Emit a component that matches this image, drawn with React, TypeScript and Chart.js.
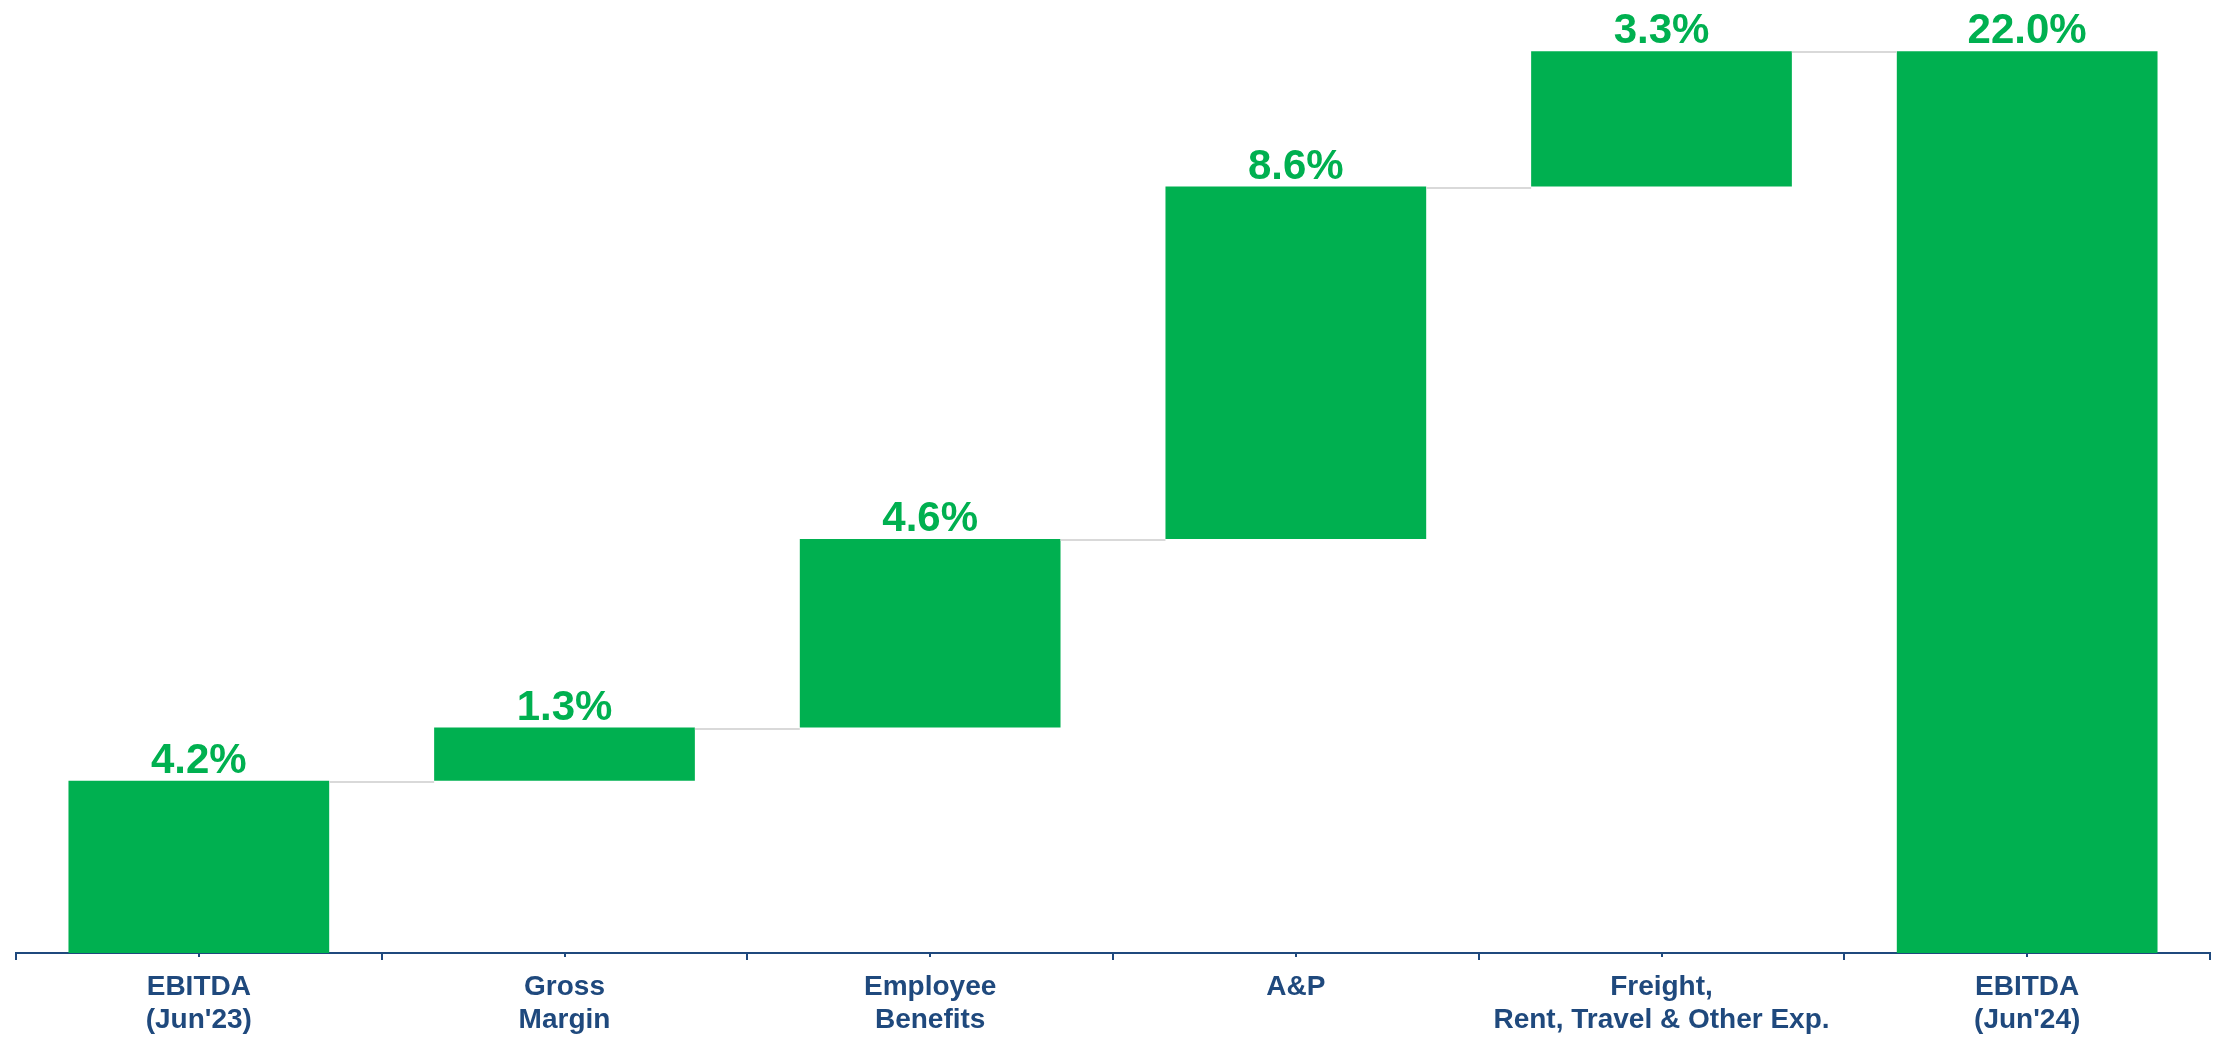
import React, { useEffect, useRef } from "react";
import { Chart, registerables } from "chart.js";

Chart.register(...registerables);

const categories: string[][] = [
  ["EBITDA", "(Jun'23)"],
  ["Gross", "Margin"],
  ["Employee", "Benefits"],
  ["A&P"],
  ["Freight,", "Rent, Travel & Other Exp."],
  ["EBITDA", "(Jun'24)"],
];
const values: number[] = [4.2, 1.3, 4.6, 8.6, 3.3, 22.0];
const isTotal: boolean[] = [true, false, false, false, false, true];

const GREEN = "#00B050";
const AXIS_BLUE = "#1F497D";
const CONNECTOR = "#D9D9D9";
const FONT = "'Liberation Sans', Arial, sans-serif";

function buildRanges(): [number, number][] {
  const out: [number, number][] = [];
  let running = 0;
  values.forEach((v, i) => {
    if (isTotal[i]) {
      out.push([0, v]);
      running = v;
    } else {
      out.push([running, running + v]);
      running += v;
    }
  });
  return out;
}

export default function App() {
  const ref = useRef<HTMLCanvasElement | null>(null);

  useEffect(() => {
    const canvas = ref.current;
    if (!canvas) return;
    const ranges = buildRanges();

    const waterfallPlugin = {
      id: "waterfallExtras",
      afterDatasetsDraw(chart: any) {
        const ctx = chart.ctx;
        const meta = chart.getDatasetMeta(0);
        const yScale = chart.scales.y;
        const xScale = chart.scales.x;
        ctx.save();
        // connectors
        ctx.strokeStyle = CONNECTOR;
        ctx.lineWidth = 2;
        for (let i = 0; i < meta.data.length - 1; i++) {
          const a = meta.data[i] as any;
          const b = meta.data[i + 1] as any;
          const y = Math.round(yScale.getPixelForValue(ranges[i][1])) + 1;
          ctx.beginPath();
          ctx.moveTo(a.x + a.width / 2, y);
          ctx.lineTo(b.x - b.width / 2, y);
          ctx.stroke();
        }
        // value labels
        ctx.fillStyle = GREEN;
        ctx.font = `bold 42px ${FONT}`;
        ctx.textAlign = "center";
        ctx.textBaseline = "alphabetic";
        meta.data.forEach((el: any, i: number) => {
          const top = Math.min(el.y, el.base);
          ctx.fillText(values[i].toFixed(1) + "%", el.x, top - 8);
        });
        // center tick marks on x axis
        ctx.strokeStyle = AXIS_BLUE;
        ctx.lineWidth = 2;
        const bottom = chart.chartArea.bottom;
        for (let i = 0; i < categories.length; i++) {
          const x = Math.round(xScale.getPixelForValue(i));
          ctx.beginPath();
          ctx.moveTo(x, bottom);
          ctx.lineTo(x, bottom + 4);
          ctx.stroke();
        }
        ctx.restore();
      },
    };

    const chart = new Chart(canvas, {
      type: "bar",
      data: {
        labels: categories,
        datasets: [
          {
            data: ranges as any,
            backgroundColor: GREEN,
            borderWidth: 0,
            categoryPercentage: 1,
            barPercentage: 0.713,
          },
        ],
      },
      options: {
        animation: false,
        responsive: false,
        devicePixelRatio: 1,
        layout: { padding: { left: 16, right: 11, top: 0, bottom: 0 } },
        plugins: {
          legend: { display: false },
          tooltip: { enabled: false },
          title: { display: false },
        },
        scales: {
          x: {
            offset: true,
            border: { display: true, color: AXIS_BLUE, width: 2 },
            grid: {
              display: true,
              offset: true,
              drawOnChartArea: false,
              drawTicks: true,
              tickLength: 7,
              color: AXIS_BLUE,
              lineWidth: 2,
            },
            ticks: {
              color: AXIS_BLUE,
              font: { family: FONT, size: 28, weight: "bold", lineHeight: 1.18 },
              padding: 11,
              maxRotation: 0,
              autoSkip: false,
            },
            afterFit(scale: any) {
              scale.height = 84;
            },
          },
          y: {
            display: false,
            min: 0,
            max: 23.25,
            grid: { display: false },
          },
        },
      },
      plugins: [waterfallPlugin],
    });

    return () => chart.destroy();
  }, []);

  return (
    <div
      style={{
        position: "fixed",
        left: 0,
        top: 0,
        width: 2221,
        height: 1037,
        background: "#ffffff",
      }}
    >
      <canvas ref={ref} width={2221} height={1037} style={{ display: "block" }} />
    </div>
  );
}
